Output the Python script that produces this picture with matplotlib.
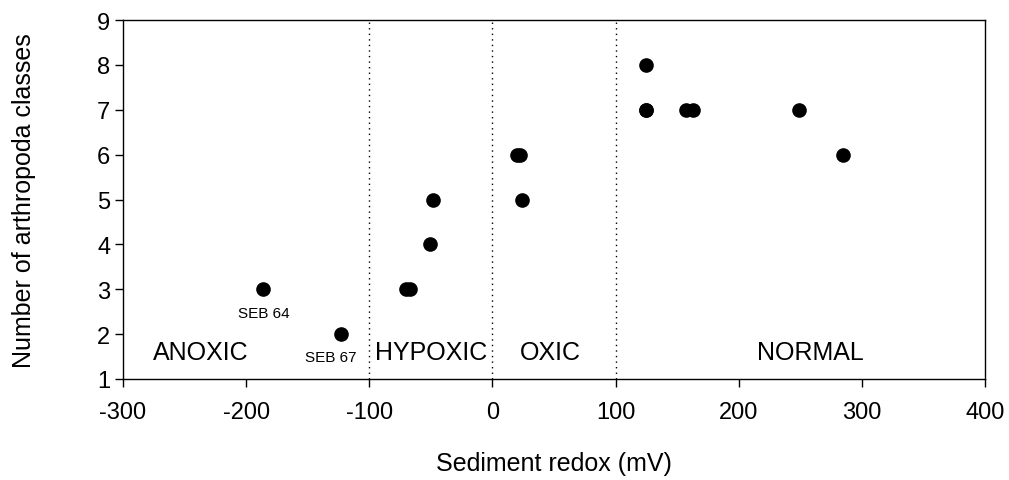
import matplotlib.pyplot as plt

plt.rcParams['font.family'] = ['Liberation Sans', 'DejaVu Sans']
plt.rcParams['axes.unicode_minus'] = False

# redox (mV) vs number of arthropoda classes
redox = [-186, -123, -70, -67, -51, -48, 20, 22, 24,
         125, 125, 125, 157, 163, 249, 285]
classes = [3, 2, 3, 3, 4, 5, 6, 6, 5,
           8, 7, 7, 7, 7, 7, 6]

zone_edges = [-100, 0, 100]
zone_names = ["ANOXIC", "HYPOXIC", "OXIC", "NORMAL"]
zone_x = [-237, -50, 47, 258]

site_names = ["SEB 64", "SEB 67"]
site_x = [-186, -131]
site_y = [2.46, 1.5]

fig = plt.figure(figsize=(10.09, 4.81), dpi=100)
ax = fig.add_axes([0.1219, 0.21, 0.8543, 0.7463])

ax.plot(redox, classes, 'o', color='black', markersize=9.5, zorder=3)

for xe in zone_edges:
    ax.axvline(xe, color='black', lw=1, linestyle=(0, (1, 3)), zorder=1)

for name, xz in zip(zone_names, zone_x):
    ax.text(xz, 1.6, name, ha='center', va='center', fontsize=18)

for name, xs, ys in zip(site_names, site_x, site_y):
    ax.text(xs, ys, name, ha='center', va='center', fontsize=11)

ax.set_xlim(-300, 400)
ax.set_ylim(1, 9)
ax.set_xticks(range(-300, 401, 100))
ax.set_yticks(range(1, 10))
ax.tick_params(axis='both', direction='out', length=6, width=1, labelsize=17)
ax.tick_params(axis='x', pad=10)
ax.tick_params(axis='y', pad=3)
for s in ax.spines.values():
    s.set_linewidth(1)

ax.set_xlabel("Sediment redox (mV)", fontsize=18, labelpad=20)
ax.set_ylabel("Number of arthropoda classes", fontsize=18, labelpad=44)

fig.savefig("out.png", dpi=100)
